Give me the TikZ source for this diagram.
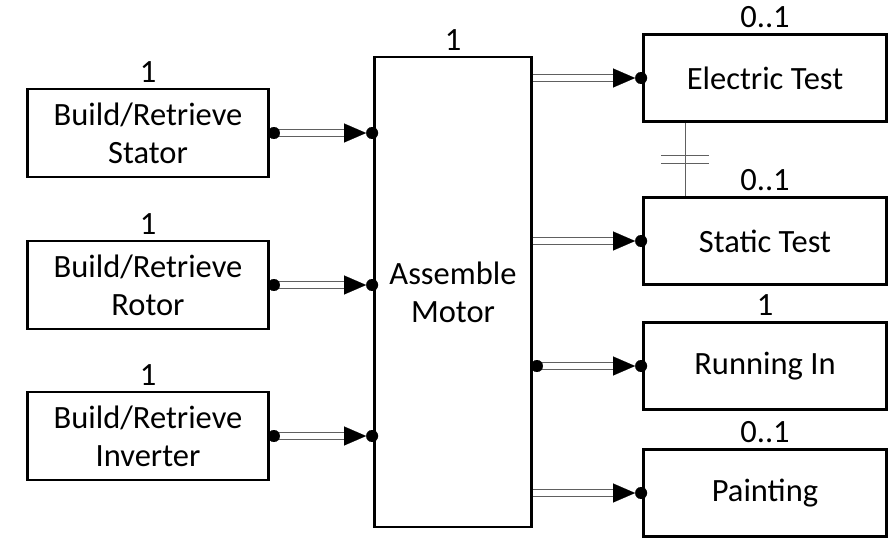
\documentclass[tikz,border=0pt]{standalone}
\usepackage{fontspec}
\setmainfont{Carlito}
\usetikzlibrary{arrows.meta,calc}

\begin{document}
\begin{tikzpicture}[x=1pt,y=-1pt,
    font=\fontsize{32.5}{38}\selectfont,
    box/.style={draw,line width=2.8pt,align=center,inner sep=0pt},
    srcbox/.style={box,minimum width=241pt,minimum height=88pt},
    testbox/.style={box,minimum width=243pt,minimum height=87pt},
    card/.style={label={[inner sep=2pt,label distance=3pt]above:#1}},
    rail/.style={draw=gray!75!black,line width=1.4pt,double=white,double distance=6pt,shorten >=28pt},
    tip/.style={draw=white,line width=0.1pt,shorten >=-5pt,
      -{Triangle[length=22pt,width=19pt,black]Circle[length=12pt,black]}},
    dottip/.style={tip,shorten <=-2pt,
      {Circle[length=12pt,black]}-{Triangle[length=22pt,width=19pt,black]Circle[length=12pt,black]}}]
  \useasboundingbox (0,0) rectangle (894,539);

  % suppliers
  \node[srcbox,card=1] (bs) at (148,133) {Build/Retrieve\\Stator};
  \node[srcbox,card=1] (br) at (148,285) {Build/Retrieve\\Rotor};
  \node[srcbox,card=1] (bi) at (148,436) {Build/Retrieve\\Inverter};

  % assembly
  \node[box,card=1,minimum width=157pt,minimum height=470pt] (am) at (453,292) {Assemble\\Motor};

  % tests
  \node[testbox,card=0..1] (et) at (765,78) {Electric Test};
  \node[testbox,card=0..1] (st) at (765,241) {Static Test};
  \node[testbox,card=1] (ri) at (765,366) {Running In};
  \node[testbox,card=0..1] (pt) at (765,493) {Painting};

  \foreach \s in {bs,br,bi}{
    \draw[rail] (\s.east) -- (\s.east -| am.west);
    \draw[dottip] (\s.east) -- (\s.east -| am.west);
  }
  \foreach \t/\k in {et/tip,st/tip,ri/dottip,pt/tip}{
    \draw[rail] (am.east |- \t.west) -- (\t.west);
    \draw[\k] (am.east |- \t.west) -- (\t.west);
  }

  % exclusive tests
  \coordinate (xa) at ([xshift=43pt]et.south west);
  \coordinate (xb) at ([xshift=43pt]st.north west);
  \draw[gray!75!black,line width=1.2pt] (xa) -- (xb);
  \draw[gray!75!black,line width=1.2pt]
    ($(xa)!0.45!(xb)$) ++(-24,0) -- ++(48,0)
    ($(xa)!0.55!(xb)$) ++(-24,0) -- ++(48,0);
\end{tikzpicture}
\end{document}
